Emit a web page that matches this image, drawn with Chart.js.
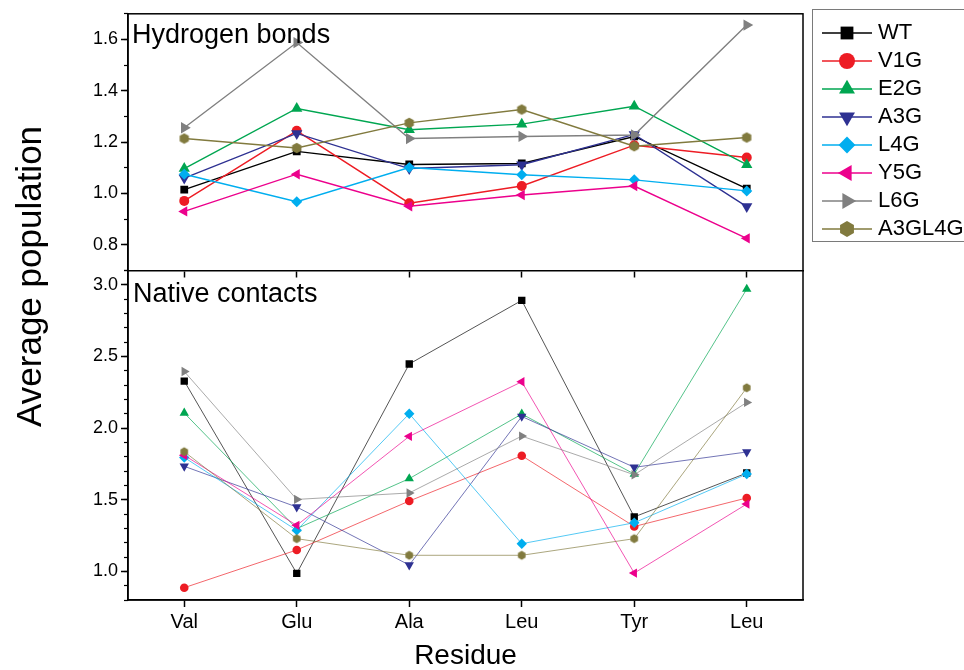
<!DOCTYPE html>
<html lang="en">

<head>
  <meta charset="UTF-8">
  <title>Average population</title>
  <script src="https://cdn.jsdelivr.net/npm/chart.js"></script>
  <style>
    html, body { margin: 0; padding: 0; background: #fff; overflow: hidden; }
  </style>
</head>

<body>
  <canvas id="grafico" width="964" height="670"></canvas>

  <script>
    // Categories and series
    const residues = ['Val', 'Glu', 'Ala', 'Leu', 'Tyr', 'Leu'];
    const mutants = ['WT', 'V1G', 'E2G', 'A3G', 'L4G', 'Y5G', 'L6G', 'A3GL4G'];
    const colors = ['#000000', '#ED1C24', '#00A651', '#2E3192', '#00AEEF', '#EC008C', '#808080', '#817A3E'];
    const markers = ['rect', 'circle', 'triangle', 'triangleDown', 'rectRot', 'triangleLeft', 'triangleRight', 'hexagon'];

    // Hydrogen bonds (top panel)
    const hbWT     = [1.015, 1.164, 1.113, 1.117, 1.222, 1.019];
    const hbV1G    = [0.971, 1.244, 0.962, 1.029, 1.188, 1.140];
    const hbE2G    = [1.097, 1.331, 1.248, 1.270, 1.340, 1.112];
    const hbA3G    = [1.060, 1.234, 1.097, 1.112, 1.230, 0.949];
    const hbL4G    = [1.075, 0.968, 1.101, 1.073, 1.053, 1.010];
    const hbY5G    = [0.930, 1.075, 0.950, 0.994, 1.029, 0.825];
    const hbL6G    = [1.256, 1.588, 1.214, 1.222, 1.228, 1.656];
    const hbA3GL4G = [1.214, 1.177, 1.275, 1.327, 1.184, 1.218];

    // Native contacts (bottom panel)
    const ncWT     = [2.328, 0.986, 2.447, 2.891, 1.380, 1.686];
    const ncV1G    = [0.886, 1.149, 1.491, 1.807, 1.313, 1.512];
    const ncE2G    = [2.105, 1.298, 1.647, 2.098, 1.679, 2.970];
    const ncA3G    = [1.733, 1.449, 1.044, 2.081, 1.726, 1.833];
    const ncL4G    = [1.795, 1.286, 2.100, 1.193, 1.339, 1.679];
    const ncY5G    = [1.810, 1.321, 1.942, 2.323, 0.988, 1.470];
    const ncL6G    = [2.395, 1.502, 1.547, 1.944, 1.674, 2.179];
    const ncA3GL4G = [1.835, 1.228, 1.112, 1.112, 1.228, 2.281];

    // Tick values
    const hbTicks = [0.8, 1.0, 1.2, 1.4, 1.6];
    const hbMinorTicks = [0.7, 0.8, 0.9, 1.0, 1.1, 1.2, 1.3, 1.4, 1.5, 1.6, 1.7];
    const ncTicks = [1.0, 1.5, 2.0, 2.5, 3.0];
    const ncMinorTicks = [0.8, 0.9, 1.0, 1.1, 1.2, 1.3, 1.4, 1.5, 1.6, 1.7, 1.8, 1.9, 2.0,
      2.1, 2.2, 2.3, 2.4, 2.5, 2.6, 2.7, 2.8, 2.9, 3.0, 3.1];

    const hbSeries = [hbWT, hbV1G, hbE2G, hbA3G, hbL4G, hbY5G, hbL6G, hbA3GL4G];
    const ncSeries = [ncWT, ncV1G, ncE2G, ncA3G, ncL4G, ncY5G, ncL6G, ncA3GL4G];

    Chart.defaults.font.family = "'Liberation Sans', Arial, sans-serif";
    Chart.defaults.color = '#000';

    // Draw a marker shape on a plain canvas (legend icons and hexagons)
    function polygon(g, x, y, r, n, start) {
      for (let k = 0; k < n; k++) {
        const a = (start + k * 360 / n) * Math.PI / 180;
        const px = x + r * Math.cos(a), py = y + r * Math.sin(a);
        if (k === 0) g.moveTo(px, py); else g.lineTo(px, py);
      }
    }

    function drawMarker(g, type, x, y, r, color) {
      g.fillStyle = color;
      g.beginPath();
      if (type === 'circle') g.arc(x, y, r, 0, Math.PI * 2);
      else if (type === 'rect') g.rect(x - r * 0.8, y - r * 0.8, r * 1.6, r * 1.6);
      else if (type === 'rectRot') polygon(g, x, y, r * 1.05, 4, -90);
      else if (type === 'hexagon') polygon(g, x, y, r, 6, -90);
      else {
        const ang = { triangle: -90, triangleDown: 90, triangleLeft: 180, triangleRight: 0 }[type];
        polygon(g, x, y, r * 1.15, 3, ang);
      }
      g.closePath();
      g.fill();
    }

    function hexImage(r, color) {
      const c = document.createElement('canvas');
      const s = Math.ceil(r) * 2 + 2;
      c.width = s; c.height = s;
      drawMarker(c.getContext('2d'), 'hexagon', s / 2, s / 2, r, color);
      return c;
    }

    function legendIcon(i) {
      const c = document.createElement('canvas');
      c.width = 70; c.height = 24;
      const g = c.getContext('2d');
      g.strokeStyle = colors[i];
      g.lineWidth = 1.5;
      g.beginPath(); g.moveTo(19, 12); g.lineTo(69, 12); g.stroke();
      drawMarker(g, markers[i], 44, 12, 8, colors[i]);
      return c;
    }

    // Chart.js point style for each marker
    const sizesTop = { rect: 5.5, circle: 5, triangle: 6.5, triangleDown: 6.5, rectRot: 5.5, triangleLeft: 6, triangleRight: 6.5, hexagon: 5.3 };
    const sizesBottom = { rect: 5.2, circle: 4.3, triangle: 5.4, triangleDown: 5.4, rectRot: 5.2, triangleLeft: 5.4, triangleRight: 5.4, hexagon: 4.4 };

    function pointOptions(i, sizes) {
      const type = markers[i];
      const r = sizes[type];
      if (type === 'hexagon') return { style: hexImage(r, colors[i]), rot: 0, radius: r };
      const map = {
        rect: ['rect', 0], circle: ['circle', 0], rectRot: ['rectRot', 0],
        triangle: ['triangle', 0], triangleDown: ['triangle', 180],
        triangleLeft: ['triangle', 270], triangleRight: ['triangle', 90]
      };
      return { style: map[type][0], rot: map[type][1], radius: r };
    }

    function toRgba(hex, a) {
      const n = parseInt(hex.slice(1), 16);
      return `rgba(${(n >> 16) & 255},${(n >> 8) & 255},${n & 255},${a})`;
    }

    const datasets = [];
    mutants.forEach((name, i) => {
      const p = pointOptions(i, sizesTop);
      datasets.push({
        label: name, data: hbSeries[i], xAxisID: 'x', yAxisID: 'yHb', order: 8 - i,
        borderColor: colors[i], borderWidth: 1.4, backgroundColor: colors[i],
        pointStyle: p.style, pointRotation: p.rot, pointRadius: p.radius,
        pointBackgroundColor: colors[i], pointBorderColor: colors[i], pointBorderWidth: 0,
        tension: 0
      });
    });
    mutants.forEach((name, i) => {
      const p = pointOptions(i, sizesBottom);
      datasets.push({
        label: name, data: ncSeries[i], xAxisID: 'x', yAxisID: 'yNc', order: 8 - i,
        borderColor: toRgba(colors[i], 0.75), borderWidth: 0.9, backgroundColor: colors[i],
        pointStyle: p.style, pointRotation: p.rot, pointRadius: p.radius,
        pointBackgroundColor: colors[i], pointBorderColor: colors[i], pointBorderWidth: 0,
        tension: 0
      });
    });

    const legendWidth = 161;

    // Frame, panel captions and legend box
    const framePlugin = {
      id: 'frame',
      beforeLayout(chart) {
        const lg = chart.legend;
        if (lg && !lg._fixedWidth) {
          const originalFit = lg.fit.bind(lg);
          lg.fit = function () { originalFit(); this.width = legendWidth; };
          lg._fixedWidth = true;
        }
      },
      afterDraw(chart) {
        const { ctx, chartArea: a, scales } = chart;
        ctx.save();
        ctx.strokeStyle = '#000';
        ctx.lineWidth = 1.5;
        ctx.strokeRect(a.left, a.top, a.right - a.left, a.bottom - a.top);

        ctx.fillStyle = '#000';
        ctx.font = "27px 'Liberation Sans', Arial, sans-serif";
        ctx.textAlign = 'left';
        ctx.textBaseline = 'alphabetic';
        ctx.fillText('Hydrogen bonds', a.left + 4, scales.yHb.top + 29);
        ctx.fillText('Native contacts', a.left + 5, scales.yNc.top + 32);

        const lg = chart.legend;
        ctx.strokeStyle = '#7a7a7a';
        ctx.lineWidth = 1;
        ctx.strokeRect(Math.round(lg.left + 9) + 0.5, Math.round(lg.top - 4) + 0.5, 200, 232);
        ctx.restore();
      }
    };

    const grafico = new Chart(document.getElementById('grafico'), {
      type: 'line',
      data: { labels: residues, datasets: datasets },
      plugins: [framePlugin],
      options: {
        responsive: false,
        animation: false,
        events: [],
        layout: { padding: { top: 13, left: 0, right: 0, bottom: 0 } },
        plugins: {
          tooltip: { enabled: false },
          legend: {
            position: 'right',
            align: 'start',
            title: { display: true, text: '', padding: 0, font: { size: 3, lineHeight: 1 } },
            labels: {
              usePointStyle: true,
              pointStyleWidth: 58,
              padding: 6,
              color: '#000',
              font: { size: 22 },
              generateLabels: () => mutants.map((m, i) => ({
                text: m, pointStyle: legendIcon(i), rotation: 0,
                fillStyle: colors[i], strokeStyle: colors[i], lineWidth: 0,
                fontColor: '#000', hidden: false, datasetIndex: i
              }))
            }
          }
        },
        scales: {
          x: {
            type: 'category', labels: residues, offset: true, position: 'bottom',
            grid: { drawOnChartArea: false, tickLength: 7, tickColor: '#000', tickWidth: 1.5 },
            border: { color: '#000', width: 1.5 },
            ticks: { color: '#000', padding: 3, font: { size: 20 }, maxRotation: 0, autoSkip: false },
            title: { display: true, text: 'Residue', color: '#000', font: { size: 28 }, padding: { top: 0, bottom: -3 } },
            afterFit: s => { s.height = 70; }
          },
          xMid: {
            type: 'category', labels: residues, offset: true, axis: 'x', position: { yNc: 3.1 },
            grid: { drawOnChartArea: false, tickLength: 6, tickColor: '#000', tickWidth: 1.5 },
            border: { color: '#000', width: 1.5 },
            ticks: { display: false }
          },
          yTitle: {
            type: 'linear', position: 'left', min: 0, max: 1, weight: 10, stackWeight: 0.896,
            grid: { display: false }, border: { display: false }, ticks: { display: false },
            title: { display: true, text: 'Average population', color: '#000', font: { size: 35 }, padding: { top: 10, bottom: 0 } },
            afterFit: s => { s.width = 60; }
          },
          yHb: {
            type: 'linear', position: 'left', stack: 'panel', stackWeight: 257, weight: 5,
            min: 0.7, max: 1.7,
            afterBuildTicks: s => { s.ticks = hbTicks.map(v => ({ value: v })); },
            grid: { drawOnChartArea: false, tickLength: 7, tickColor: '#000', tickWidth: 1.5 },
            border: { color: '#000', width: 1.5 },
            ticks: { color: '#000', padding: 3, font: { size: 18 }, callback: v => Number(v).toFixed(1) },
            afterFit: s => { s.width = 68; }
          },
          yNc: {
            type: 'linear', position: 'left', stack: 'panel', stackWeight: 330, weight: 4,
            min: 0.8, max: 3.1,
            afterBuildTicks: s => { s.ticks = ncTicks.map(v => ({ value: v })); },
            grid: { drawOnChartArea: false, tickLength: 7, tickColor: '#000', tickWidth: 1.5 },
            border: { color: '#000', width: 1.5 },
            ticks: { color: '#000', padding: 3, font: { size: 18 }, callback: v => Number(v).toFixed(1) },
            afterFit: s => { s.width = 68; }
          },
          yHbMinor: {
            type: 'linear', position: 'left', stack: 'minor', stackWeight: 257, weight: 2,
            min: 0.7, max: 1.7,
            afterBuildTicks: s => { s.ticks = hbMinorTicks.map(v => ({ value: v })); },
            grid: { drawOnChartArea: false, tickLength: 4, tickColor: '#000', tickWidth: 1.2 },
            border: { display: false },
            ticks: { display: false },
            afterFit: s => { s.width = 0; }
          },
          yNcMinor: {
            type: 'linear', position: 'left', stack: 'minor', stackWeight: 330, weight: 1,
            min: 0.8, max: 3.1,
            afterBuildTicks: s => { s.ticks = ncMinorTicks.map(v => ({ value: v })); },
            grid: { drawOnChartArea: false, tickLength: 4, tickColor: '#000', tickWidth: 1.2 },
            border: { display: false },
            ticks: { display: false },
            afterFit: s => { s.width = 0; }
          }
        }
      }
    });
  </script>
</body>

</html>
